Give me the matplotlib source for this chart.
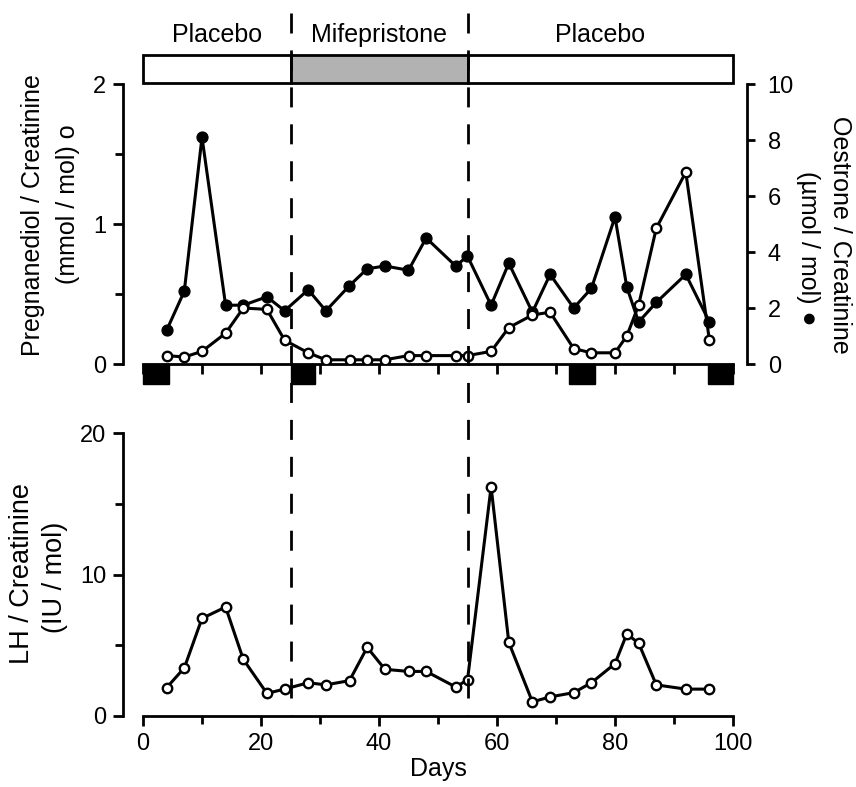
import matplotlib
matplotlib.use("Agg")
import matplotlib.pyplot as plt
from matplotlib.patches import Rectangle
from matplotlib.lines import Line2D
from matplotlib.transforms import blended_transform_factory
from matplotlib.ticker import MultipleLocator

plt.rcParams['font.family'] = ['Liberation Sans', 'DejaVu Sans']

# sampling days (urine collections)
days = [4, 7, 10, 14, 17, 21, 24, 28, 31, 35, 38, 41, 45, 48, 53, 55,
        59, 62, 66, 69, 73, 76, 80, 82, 84, 87, 92, 96]
# pregnanediol / creatinine (mmol/mol), open circles
pregnanediol = [0.06, 0.05, 0.09, 0.22, 0.40, 0.39, 0.17, 0.08, 0.03, 0.03,
                0.03, 0.03, 0.06, 0.06, 0.06, 0.06, 0.09, 0.26, 0.35, 0.37,
                0.11, 0.08, 0.08, 0.20, 0.42, 0.97, 1.37, 0.17]
# oestrone / creatinine (umol/mol), filled circles
oestrone = [1.2, 2.6, 8.1, 2.1, 2.1, 2.4, 1.9, 2.65, 1.9, 2.8, 3.4, 3.5,
            3.35, 4.5, 3.5, 3.85, 2.1, 3.6, 1.85, 3.2, 2.0, 2.7, 5.25, 2.75,
            1.5, 2.2, 3.2, 1.5]
# LH / creatinine (IU/mol)
lh = [2.0, 3.4, 6.9, 7.7, 4.0, 1.6, 1.9, 2.35, 2.2, 2.5, 4.85, 3.3, 3.15,
      3.15, 2.05, 2.55, 16.2, 5.2, 1.0, 1.35, 1.65, 2.35, 3.7, 5.8, 5.15,
      2.2, 1.9, 1.9]

# treatment phases
phase_names = ['Placebo', 'Mifepristone', 'Placebo']
phase_start = [0, 25, 55]
phase_end = [25, 55, 100]
phase_fill = ['white', '#b2b2b2', 'white']

# menses (black blocks)
menses_start = [0, 25, 72.2, 95.7]
menses_end = [4.4, 29.2, 76.6, 100]

W, H = 856, 787
fig = plt.figure(figsize=(W / 100, H / 100), dpi=100)

def fx(px):
    return px / W

def fy(py):
    return 1 - py / H

left, right = 143, 733
ax = fig.add_axes([fx(left), fy(364), fx(right - left), (364 - 84) / H])
ax_lh = fig.add_axes([fx(left), fy(716), fx(right - left), (716 - 433) / H])
ax2 = ax.twinx()

LW = 2.2
TICK = 17
LAB = 18

# top panel data
ax2.plot(days, oestrone, '-o', color='black', lw=LW, ms=7.8,
         mfc='black', mec='black', zorder=3)
ax.plot(days, pregnanediol, '-o', color='black', lw=LW, ms=6.8,
        mfc='white', mec='black', mew=1.7, zorder=4)
ax.set_zorder(ax2.get_zorder() + 1)
ax.patch.set_visible(False)

ax.set_xlim(0, 100)
ax.set_ylim(0, 2)
ax2.set_ylim(0, 10)

ax.spines['top'].set_visible(False)
ax2.spines['top'].set_visible(False)
ax.spines['right'].set_visible(False)
ax2.spines['left'].set_visible(False)
ax2.spines['bottom'].set_visible(False)
ax.spines['left'].set_position(('outward', 14.4))
ax2.spines['right'].set_position(('outward', 10))
for a in (ax, ax2, ax_lh):
    for s in a.spines.values():
        s.set_linewidth(2.0)

ax.yaxis.set_major_locator(MultipleLocator(1))
ax.yaxis.set_minor_locator(MultipleLocator(0.5))
ax.xaxis.set_major_locator(MultipleLocator(10))
ax.set_xticklabels([])
ax.tick_params(axis='y', which='major', labelsize=TICK, length=7, width=2.0, pad=5)
ax.tick_params(axis='y', which='minor', length=6, width=2.0)
ax.tick_params(axis='x', which='major', length=7, width=2.0)
ax2.yaxis.set_major_locator(MultipleLocator(2))
ax2.tick_params(axis='y', labelsize=TICK, length=6, width=2.0, pad=9)

# menses blocks under the top axis
for s, e in zip(menses_start, menses_end):
    ax.add_patch(Rectangle((s, -0.143), e - s, 0.143, facecolor='black',
                           edgecolor='black', clip_on=False, zorder=5))

# treatment bar
for name, s, e, c in zip(phase_names, phase_start, phase_end, phase_fill):
    ax.add_patch(Rectangle((s, 2.007), e - s, 0.2, facecolor=c,
                           edgecolor='black', lw=2.0, clip_on=False))
    ax.text((s + e) / 2, 2.30, name, ha='center', va='baseline',
            fontsize=LAB, clip_on=False)

# LH panel
ax_lh.plot(days, lh, '-o', color='black', lw=LW, ms=6.8, mfc='white',
           mec='black', mew=1.7)
ax_lh.set_xlim(0, 100)
ax_lh.set_ylim(0, 20)
ax_lh.spines['top'].set_visible(False)
ax_lh.spines['right'].set_visible(False)
ax_lh.spines['left'].set_position(('outward', 14.4))
ax_lh.yaxis.set_major_locator(MultipleLocator(10))
ax_lh.yaxis.set_minor_locator(MultipleLocator(5))
ax_lh.xaxis.set_major_locator(MultipleLocator(20))
ax_lh.xaxis.set_minor_locator(MultipleLocator(10))
ax_lh.tick_params(which='major', labelsize=TICK, length=7, width=2.0, pad=5)
ax_lh.tick_params(which='minor', length=6, width=2.0)
ax_lh.set_xlabel('Days', fontsize=LAB, labelpad=2)

# y labels
fig.text(fx(33), fy(215), 'Pregnanediol / Creatinine', rotation=90,
         ha='center', va='center', fontsize=LAB)
fig.text(fx(68), fy(204), '(mmol / mol) o', rotation=90,
         ha='center', va='center', fontsize=LAB)
fig.text(fx(840), fy(235), 'Oestrone / Creatinine', rotation=270,
         ha='center', va='center', fontsize=LAB)
fig.text(fx(808), fy(248), '(\u00b5mol / mol) \u25cf', rotation=270,
         ha='center', va='center', fontsize=LAB)
fig.text(fx(22), fy(573), 'LH / Creatinine', rotation=90,
         ha='center', va='center', fontsize=19.5)
fig.text(fx(55), fy(577), '(IU / mol)', rotation=90,
         ha='center', va='center', fontsize=19.5)

# dashed treatment boundaries across both panels
tr = blended_transform_factory(ax_lh.transData, fig.transFigure)
for d in (phase_start[1], phase_start[2]):
    fig.add_artist(Line2D([d, d], [fy(13), fy(716)], transform=tr,
                          color='black', lw=2.0, linestyle=(0, (7.2, 6.1))))

fig.savefig('out.png', dpi=100)
